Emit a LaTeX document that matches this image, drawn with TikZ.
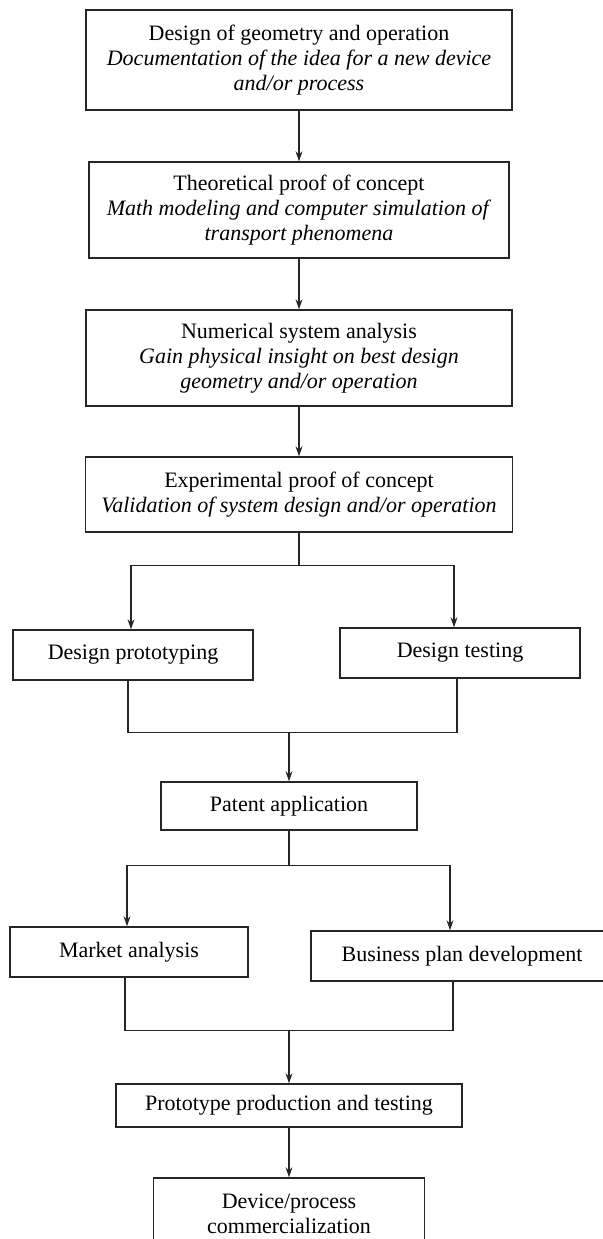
\documentclass[tikz,border=0pt]{standalone}
\usepackage{fontspec}
\setmainfont{Liberation Serif}
\usetikzlibrary{arrows.meta,positioning}

\begin{document}
\begin{tikzpicture}[
  x=0.5pt,y=-0.5pt,
  stage/.style={draw=black!85, line width=0.65pt, align=center, inner sep=2pt, font=\fontsize{11}{12.5}\selectfont},
  conn/.style={draw=black!85, line width=0.65pt},
  arr/.style={conn, -{Stealth[length=5pt,width=3.4pt]}}
]
\clip (0,0) rectangle (603,1239);
% main column
\node[stage, minimum width=213pt, minimum height=50pt] (geom) at (299,60) {Design of geometry and operation\\\textit{Documentation of the idea for a new device}\\\textit{and/or process}};
\node[stage, minimum width=210pt, minimum height=48pt] (theory) at (299,210) {Theoretical proof of concept\\\textit{Math modeling and computer simulation of}\\\textit{transport phenomena}};
\node[stage, minimum width=213pt, minimum height=48pt] (numer) at (299,358) {Numerical system analysis\\\textit{Gain physical insight on best design}\\\textit{geometry and/or operation}};
\node[stage, minimum width=213.5pt, minimum height=37.5pt] (exper) at (299,494.5) {Experimental proof of concept\\\textit{Validation of system design and/or operation}};
% design branch
\node[stage, minimum width=120pt, minimum height=25pt] (proto) at (133,655) {Design prototyping};
\node[stage, minimum width=120pt, minimum height=25pt] (testing) at (460,653) {Design testing};
\node[stage, minimum width=128pt, minimum height=24pt] (patent) at (289,806) {Patent application};
% business branch
\node[stage, minimum width=119pt, minimum height=25pt] (market) at (129,952) {Market analysis};
\node[stage, minimum width=151pt, minimum height=25pt] (business) at (462,956) {Business plan development};
\node[stage, minimum width=173pt, minimum height=21.5pt] (prodtest) at (289,1105.5) {Prototype production and testing};
\node[stage, minimum width=135.5pt, minimum height=36pt] (commerc) at (289,1214) {Device/process\\commercialization};

\foreach \a/\b in {geom/theory,theory/numer,numer/exper,prodtest/commerc}{\draw[arr] (\a) -- (\b);}

\draw[conn] (exper.south) -- ++(0,33) coordinate (split1);
\draw[arr] (split1) -| ([xshift=-1pt]proto.north);
\draw[arr] (split1) -| ([xshift=-3pt]testing.north);
\draw[conn] ([xshift=-2.5pt]proto.south) -- ++(0,52) coordinate (join1) -| ([xshift=-1.5pt]testing.south);
\draw[arr] (join1 -| patent.north) -- (patent.north);

\draw[conn] (patent.south) -- ++(0,35) coordinate (split2);
\draw[arr] (split2) -| ([xshift=-1pt]market.north);
\draw[arr] (split2) -| ([xshift=-6pt]business.north);
\draw[conn] ([xshift=-2pt]market.south) -- ++(0,53) coordinate (join2) -| ([xshift=-4.5pt]business.south);
\draw[arr] (join2 -| prodtest.north) -- (prodtest.north);
\end{tikzpicture}
\end{document}
